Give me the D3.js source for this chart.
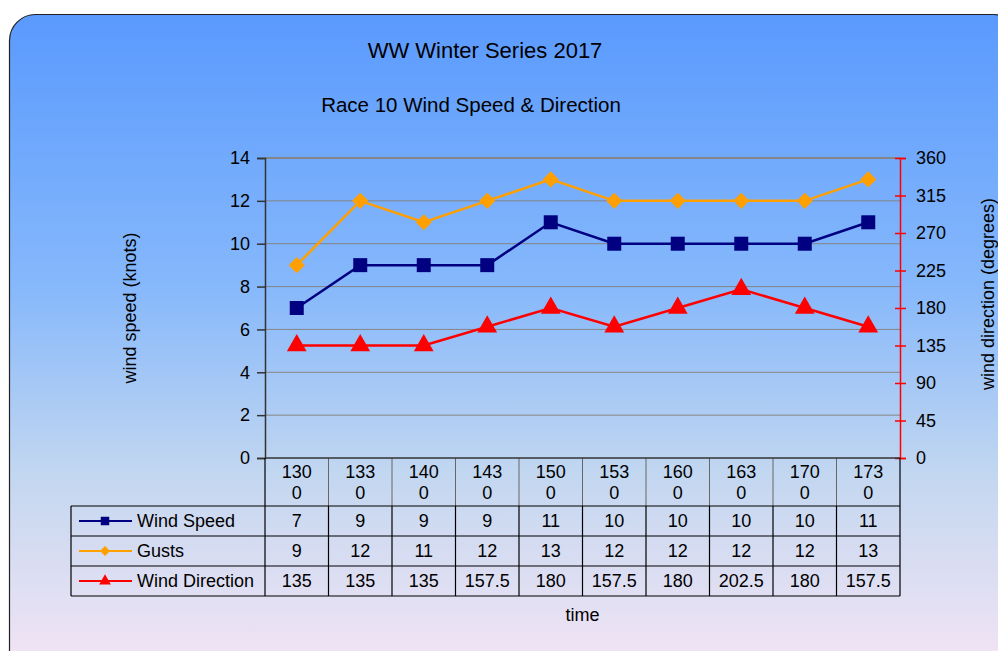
<!DOCTYPE html>
<html>
<head>
<meta charset="utf-8">
<script src="https://cdn.jsdelivr.net/npm/d3@7"></script>
<style>
  html, body { margin: 0; padding: 0; background: #fff; }
  svg text { font-family: "Liberation Sans", Arial, sans-serif; fill: #000; }
</style>
</head>
<body>
<svg id="chart" width="998" height="651"></svg>
<script>
const times = ['1300', '1330', '1400', '1430', '1500', '1530', '1600', '1630', '1700', '1730'];
const windSpeed = [7, 9, 9, 9, 11, 10, 10, 10, 10, 11];
const gusts = [9, 12, 11, 12, 13, 12, 12, 12, 12, 13];
const windDirection = [135, 135, 135, 157.5, 180, 157.5, 180, 202.5, 180, 157.5];
const speedTicks = [0, 2, 4, 6, 8, 10, 12, 14];
const dirTicks = [0, 45, 90, 135, 180, 225, 270, 315, 360];

// square turned 45deg, same width and height
const diamond = {
  draw(ctx, size) {
    const r = Math.sqrt(size) / 2 * Math.SQRT2;
    ctx.moveTo(0, -r); ctx.lineTo(r, 0); ctx.lineTo(0, r); ctx.lineTo(-r, 0); ctx.closePath();
  }
};

const series = [
  { name: 'Wind Speed', values: windSpeed, color: '#000080', shape: d3.symbolSquare, size: 196, keySize: 72, axis: 'left' },
  { name: 'Gusts', values: gusts, color: '#ffa000', shape: diamond, size: 130, keySize: 50, axis: 'left' },
  { name: 'Wind Direction', values: windDirection, color: '#ff0000', shape: d3.symbolTriangle, size: 170, keySize: 60, axis: 'right' },
];

const svg = d3.select('#chart');
const plot = { left: 265, right: 900, top: 158, bottom: 458 };
const legendLeft = 71;
const headerH = 48, rowH = 30;
const fs = '18px';

// Background

const defs = svg.append('defs');
const grad = defs.append('linearGradient')
  .attr('id', 'bg')
  .attr('x1', 0).attr('y1', 0).attr('x2', 0).attr('y2', 1);
grad.append('stop').attr('offset', '0%').attr('stop-color', '#5a9afe');
grad.append('stop').attr('offset', '40%').attr('stop-color', '#86b8fb');
grad.append('stop').attr('offset', '68%').attr('stop-color', '#c3d7f0');
grad.append('stop').attr('offset', '100%').attr('stop-color', '#fae6f5');

svg.append('rect')
  .attr('x', 9.5).attr('y', 14.5)
  .attr('width', 1010).attr('height', 680)
  .attr('rx', 26).attr('ry', 26)
  .attr('fill', 'url(#bg)')
  .attr('stroke', '#222').attr('stroke-width', 1.2);

// Titles

svg.append('text')
  .attr('x', 485).attr('y', 58)
  .attr('text-anchor', 'middle')
  .style('font-size', '22px')
  .text('WW Winter Series 2017');

svg.append('text')
  .attr('x', 471).attr('y', 112)
  .attr('text-anchor', 'middle')
  .style('font-size', '20.5px')
  .text('Race 10 Wind Speed & Direction');

// Scales

const x = d3.scaleBand().domain(times).range([plot.left, plot.right]);
const ySpeed = d3.scaleLinear().domain([0, 14]).range([plot.bottom, plot.top]);
const yDir = d3.scaleLinear().domain([0, 360]).range([plot.bottom, plot.top]);

// Gridlines

svg.append('g')
  .selectAll('line')
  .data(speedTicks.filter(d => d > 0))
  .join('line')
  .attr('x1', plot.left).attr('x2', plot.right)
  .attr('y1', d => ySpeed(d)).attr('y2', d => ySpeed(d))
  .attr('stroke', '#858585')
  .attr('stroke-width', d => d === 14 ? 2 : 1);

// Axes

const leftAxis = svg.append('g')
  .attr('transform', `translate(${plot.left},0)`)
  .call(d3.axisLeft(ySpeed).tickValues(speedTicks).tickSize(8).tickPadding(7));
leftAxis.select('.domain').attr('stroke', '#333').attr('stroke-width', 1.5);
leftAxis.selectAll('.tick line').attr('stroke', '#333').attr('stroke-width', 1.5);
leftAxis.selectAll('text').style('font-size', fs).attr('fill', '#000');

const rightAxis = svg.append('g')
  .attr('transform', `translate(${plot.right},0)`)
  .call(d3.axisRight(yDir).tickValues(dirTicks).tickSize(6).tickPadding(10));
rightAxis.select('.domain').attr('stroke', '#ff0000').attr('stroke-width', 1.5);
rightAxis.selectAll('.tick line')
  .attr('x1', -5).attr('x2', 6)
  .attr('stroke', '#ff0000').attr('stroke-width', 1.5);
rightAxis.selectAll('text').style('font-size', fs).attr('fill', '#000');

svg.append('text')
  .attr('transform', `translate(136,${(plot.top + plot.bottom) / 2}) rotate(-90)`)
  .attr('text-anchor', 'middle')
  .style('font-size', fs)
  .text('wind speed (knots)');

svg.append('text')
  .attr('transform', `translate(994,${(plot.top + plot.bottom) / 2 - 14}) rotate(-90)`)
  .attr('text-anchor', 'middle')
  .style('font-size', fs)
  .text('wind direction (degrees)');

// Lines and markers

const cx = d => x(d) + x.bandwidth() / 2;

series.forEach(s => {
  const y = s.axis === 'left' ? ySpeed : yDir;
  const line = d3.line().x((d, i) => cx(times[i])).y(d => y(d));
  svg.append('path')
    .datum(s.values)
    .attr('d', line)
    .attr('fill', 'none')
    .attr('stroke', s.color)
    .attr('stroke-width', 2.5);
  svg.append('g')
    .selectAll('path')
    .data(s.values)
    .join('path')
    .attr('transform', (d, i) => `translate(${cx(times[i])},${y(d)})`)
    .attr('d', d3.symbol().type(s.shape).size(s.size))
    .attr('fill', s.color);
});

// Data table

const table = svg.append('g');
const tableBottom = plot.bottom + headerH + rowH * series.length;

// header cells (time labels wrap after three digits)
times.forEach(t => {
  const mid = cx(t);
  table.append('text')
    .attr('x', mid).attr('y', plot.bottom + 20)
    .attr('text-anchor', 'middle')
    .style('font-size', fs)
    .text(t.slice(0, 3));
  table.append('text')
    .attr('x', mid).attr('y', plot.bottom + 41)
    .attr('text-anchor', 'middle')
    .style('font-size', fs)
    .text(t.slice(3));
});

// header vertical borders (grey)
table.selectAll('.hdiv')
  .data(times.slice(1))
  .join('line')
  .attr('x1', d => x(d)).attr('x2', d => x(d))
  .attr('y1', plot.bottom).attr('y2', plot.bottom + headerH)
  .attr('stroke', '#666').attr('stroke-width', 1);

// plot bottom edge
table.append('line')
  .attr('x1', plot.left).attr('x2', plot.right)
  .attr('y1', plot.bottom).attr('y2', plot.bottom)
  .attr('stroke', '#333').attr('stroke-width', 1.5);

table.append('line')
  .attr('x1', plot.left).attr('x2', plot.left)
  .attr('y1', plot.bottom).attr('y2', tableBottom)
  .attr('stroke', '#000').attr('stroke-width', 1.2);
table.append('line')
  .attr('x1', plot.right).attr('x2', plot.right)
  .attr('y1', plot.bottom).attr('y2', tableBottom)
  .attr('stroke', '#000').attr('stroke-width', 1.2);

series.forEach((s, r) => {
  const top = plot.bottom + headerH + rowH * r;
  table.append('line')
    .attr('x1', legendLeft).attr('x2', plot.right)
    .attr('y1', top).attr('y2', top)
    .attr('stroke', '#000').attr('stroke-width', 1.2);

  // legend key
  const ky = top + rowH / 2;
  table.append('line')
    .attr('x1', 79).attr('x2', 132)
    .attr('y1', ky).attr('y2', ky)
    .attr('stroke', s.color).attr('stroke-width', 2);
  table.append('path')
    .attr('transform', `translate(105,${ky})`)
    .attr('d', d3.symbol().type(s.shape).size(s.keySize))
    .attr('fill', s.color);
  table.append('text')
    .attr('x', 137).attr('y', ky + 6)
    .style('font-size', fs)
    .text(s.name);

  s.values.forEach((v, i) => {
    table.append('text')
      .attr('x', cx(times[i])).attr('y', ky + 6)
      .attr('text-anchor', 'middle')
      .style('font-size', fs)
      .text(v);
  });
});

table.append('line')
  .attr('x1', legendLeft).attr('x2', plot.right)
  .attr('y1', tableBottom).attr('y2', tableBottom)
  .attr('stroke', '#000').attr('stroke-width', 1.2);
table.append('line')
  .attr('x1', legendLeft).attr('x2', legendLeft)
  .attr('y1', plot.bottom + headerH).attr('y2', tableBottom)
  .attr('stroke', '#000').attr('stroke-width', 1.2);
table.selectAll('.vdiv')
  .data(times.slice(1))
  .join('line')
  .attr('x1', d => x(d)).attr('x2', d => x(d))
  .attr('y1', plot.bottom + headerH).attr('y2', tableBottom)
  .attr('stroke', '#000').attr('stroke-width', 1.2);

svg.append('text')
  .attr('x', (plot.left + plot.right) / 2).attr('y', 621)
  .attr('text-anchor', 'middle')
  .style('font-size', fs)
  .text('time');
</script>
</body>
</html>
